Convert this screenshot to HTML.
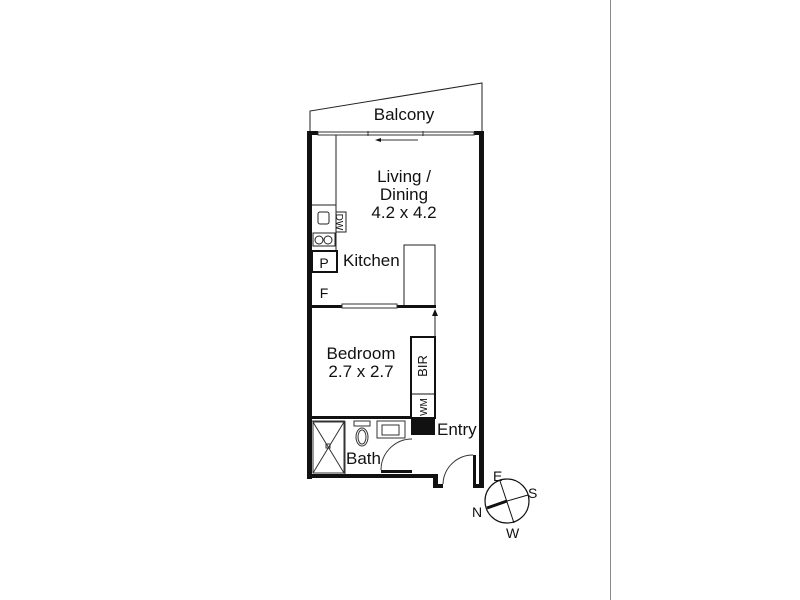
<!DOCTYPE html>
<html><head><style>
html,body{margin:0;padding:0;background:#fff;}
svg{display:block;}
text{font-family:"Liberation Sans",Arial,sans-serif;fill:#111;}
</style></head><body>
<svg width="800" height="600" viewBox="0 0 800 600" xmlns="http://www.w3.org/2000/svg">
<line x1="610.5" y1="0" x2="610.5" y2="600" stroke="#888" stroke-width="1"/>
<polyline points="310,132 310,111 482,83 482,132" fill="none" stroke="#222" stroke-width="1"/>
<text x="404" y="120" font-size="17" text-anchor="middle">Balcony</text>
<g fill="#111">
<rect x="307" y="131" width="5" height="348"/>
<rect x="479" y="131" width="5" height="357"/>
<rect x="307" y="131" width="11" height="4"/>
<rect x="474" y="131" width="10" height="4"/>
<rect x="307" y="474" width="131" height="4"/>
<rect x="433" y="474" width="5" height="14"/>
<rect x="433" y="484" width="10" height="4"/>
<rect x="473" y="455" width="3" height="33"/>
<rect x="473" y="484" width="11" height="4"/>
</g>
<g stroke="#333" stroke-width="1" fill="none">
<rect x="318" y="132" width="156" height="3"/>
<line x1="368" y1="131" x2="368" y2="136"/>
<line x1="423" y1="131" x2="423" y2="136"/>
<line x1="377" y1="140" x2="418" y2="140"/>
</g>
<polygon points="375,140 381,138 381,142" fill="#111"/>
<text x="404" y="182" font-size="17" text-anchor="middle">Living /</text>
<text x="404" y="200" font-size="17" text-anchor="middle">Dining</text>
<text x="404" y="218" font-size="17" text-anchor="middle">4.2 x 4.2</text>
<g stroke="#222" stroke-width="1" fill="none">
<line x1="336" y1="135" x2="336" y2="250"/>
<line x1="312" y1="205" x2="336" y2="205"/>
<rect x="318" y="212" width="11" height="12" rx="2"/>
<rect x="336" y="212" width="10" height="20"/>
<rect x="313" y="233" width="22" height="13"/>
<circle cx="319" cy="240" r="4"/>
<circle cx="328" cy="240" r="4"/>
<rect x="404" y="245" width="31" height="62"/>
</g>
<text x="342" y="228" font-size="10" transform="rotate(90 342 222)" text-anchor="middle">DW</text>
<rect x="312" y="251" width="25" height="21" fill="none" stroke="#111" stroke-width="2"/>
<text x="324" y="268" font-size="14" text-anchor="middle">P</text>
<text x="343" y="266" font-size="17">Kitchen</text>
<text x="324" y="298" font-size="14" text-anchor="middle">F</text>
<rect x="312" y="305" width="124" height="3" fill="#111"/>
<rect x="342" y="304" width="55" height="4" fill="#fff" stroke="#333" stroke-width="1"/>
<line x1="435" y1="313" x2="435" y2="337" stroke="#222" stroke-width="1"/>
<polygon points="435,309 432,316 438,316" fill="#111"/>
<text x="361" y="359" font-size="17" text-anchor="middle">Bedroom</text>
<text x="361" y="377" font-size="17" text-anchor="middle">2.7 x 2.7</text>
<rect x="411" y="337" width="24" height="81" fill="none" stroke="#111" stroke-width="2"/>
<line x1="411" y1="394" x2="435" y2="394" stroke="#111" stroke-width="1"/>
<text x="423" y="366" font-size="13" text-anchor="middle" transform="rotate(-90 423 366)" dy="4">BIR</text>
<text x="423" y="407" font-size="10" text-anchor="middle" transform="rotate(-90 423 407)" dy="4">WM</text>
<rect x="411" y="418" width="24" height="17" fill="#111"/>
<text x="437" y="435" font-size="17">Entry</text>
<rect x="312" y="416" width="99" height="3" fill="#111"/>
<g stroke="#333" stroke-width="1" fill="none">
<line x1="312" y1="421" x2="345" y2="421"/>
<rect x="313" y="422" width="31" height="51"/>
<line x1="313" y1="422" x2="344" y2="473"/>
<line x1="344" y1="422" x2="313" y2="473"/>
<rect x="326" y="444" width="4" height="4"/>
<line x1="345" y1="421" x2="345" y2="474"/>
<rect x="354" y="421" width="16" height="5"/>
<ellipse cx="362" cy="437" rx="6" ry="9"/>
<ellipse cx="362" cy="437" rx="4" ry="7"/>
<rect x="377" y="421" width="28" height="17"/>
<rect x="382" y="425" width="17" height="10"/>
<path d="M412,439 A31,31 0 0 0 381,470"/>
<path d="M473,455 A30,30 0 0 0 443,484"/>
</g>
<rect x="381" y="470" width="31" height="3" fill="#111"/>
<text x="346" y="464" font-size="17">Bath</text>
<g stroke="#111" fill="none">
<circle cx="507" cy="501" r="22" stroke-width="1.2"/>
<line x1="500" y1="481" x2="514" y2="523" stroke-width="1"/>
<line x1="528" y1="495" x2="507" y2="501" stroke-width="1"/>
<line x1="507" y1="501" x2="487" y2="508" stroke-width="3"/>
</g>
<text x="493" y="481" font-size="14">E</text>
<text x="528" y="498" font-size="14">S</text>
<text x="472" y="517" font-size="14">N</text>
<text x="506" y="538" font-size="14">W</text>
</svg>
</body></html>
